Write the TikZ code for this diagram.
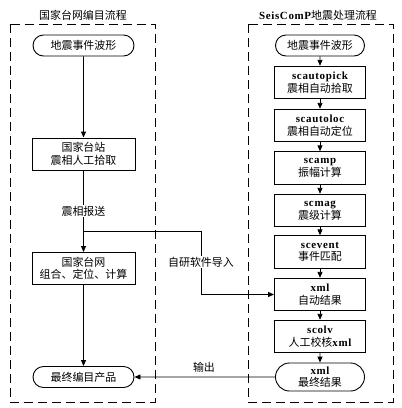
\documentclass[tikz,border=0pt]{standalone}
\usepackage{fontspec}
\newfontfamily\cjk{Noto Sans CJK SC}
\newfontfamily\latinfont[LetterSpace=6]{Liberation Serif}
\newcommand{\lat}[1]{{\latinfont\bfseries #1}}
\usetikzlibrary{shapes.misc,arrows.meta}
\tikzset{
  base/.style={draw,line width=0.9pt,align=center,inner sep=1pt,font=\cjk\fontsize{11}{12.5}\selectfont},
  lbox/.style={base,rectangle,minimum width=103bp,minimum height=32bp},
  rbox/.style={base,rectangle,minimum width=91bp,minimum height=32.5bp},
  lround/.style={base,rounded rectangle,minimum width=103bp,minimum height=21bp},
  rround/.style={base,rounded rectangle,minimum width=91bp,minimum height=21bp},
  frame/.style={dashed,dash pattern=on 9bp off 5bp,line width=1pt},
  conn/.style={line width=0.9pt},
  arr/.style={conn,-{Triangle[length=6bp,width=5bp]}},
  lab/.style={fill=white,inner sep=1pt,font=\cjk\fontsize{11}{12.5}\selectfont},
  ttl/.style={inner sep=0pt,font=\cjk\fontsize{11}{12.5}\selectfont}
}
\begin{document}
\begin{tikzpicture}[x=1bp,y=-1bp]
\useasboundingbox (0,0) rectangle (402,408);
% frames
\draw[frame] (10,24) rectangle (155,402);
\draw[frame] (248,24) rectangle (393,402);
\node[ttl] (t1) at (83,15) {国家台网编目流程};
\node[ttl] (t2) at (318,15) {\lat{SeisComP}地震处理流程};
% left nodes
\node[lround] (lw) at (83.5,45.5) {地震事件波形};
\node[lbox] (lst) at (83.5,154) {国家台站\\震相人工拾取};
\node[lbox] (lnet) at (83.5,268.5) {国家台网\\组合、定位、计算};
\node[lround] (lfin) at (83.5,377) {最终编目产品};
% right nodes
\node[rround] (rw) at (320,45.5) {地震事件波形};
\node[rbox] (r1) at (320,82.5) {\lat{scautopick}\\震相自动拾取};
\node[rbox] (r2) at (320,125.5) {\lat{scautoloc}\\震相自动定位};
\node[rbox] (r3) at (320,168) {\lat{scamp}\\振幅计算};
\node[rbox] (r4) at (320,210.5) {\lat{scmag}\\震级计算};
\node[rbox] (r5) at (320,252) {\lat{scevent}\\事件匹配};
\node[rbox] (r6) at (320,294.5) {\lat{xml}\\自动结果};
\node[rbox] (r7) at (320,336.5) {\lat{scolv}\\人工校核\lat{xml}};
\node[rround,minimum height=28bp] (r8) at (320,377) {\lat{xml}\\最终结果};
% left connectors
\draw[arr] (lw) -- (lst);
\draw[arr] (lst) -- (lnet);
\draw[arr] (lnet) -- (lfin);
\coordinate (j1) at (83.5,231);
\coordinate (j2) at (201,231);
\draw[arr] (j1) -- (j2) |- (r6.west);
\node[lab] (l1) at (83.5,211) {震相报送};
\node[lab] (l2) at (201,262) {自研软件导入};
% right connectors
\foreach \a/\b in {rw/r1,r1/r2,r2/r3,r3/r4,r4/r5,r5/r6,r6/r7,r7/r8}
  \draw[arr] (\a) -- (\b);
\draw[arr] (r8) -- (lfin);
\node[lab] (l3) at (204,367) {输出};
\end{tikzpicture}
\end{document}
